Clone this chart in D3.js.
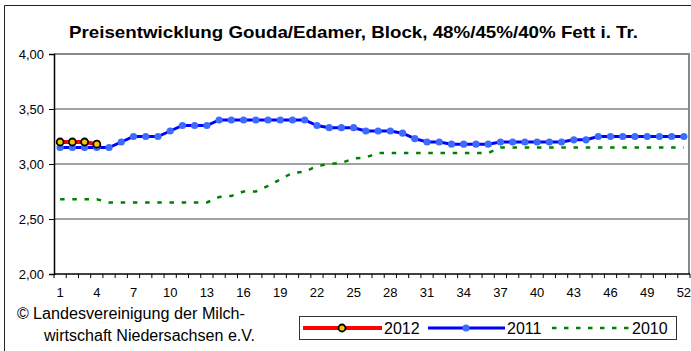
<!DOCTYPE html>
<html>
<head>
<meta charset="utf-8">
<script src="https://cdn.jsdelivr.net/npm/d3@7"></script>
<style>
  html, body { margin: 0; padding: 0; background: #fff; }
  svg { display: block; font-family: "Liberation Sans", Arial, sans-serif; }
</style>
</head>
<body>
<svg id="chart" width="691" height="351"></svg>
<script>
// Kalenderwochen
const weeks = d3.range(1, 53);
const xTickWeeks = [1, 4, 7, 10, 13, 16, 19, 22, 25, 28, 31, 34, 37, 40, 43, 46, 49, 52];
const yTicks = [2.00, 2.50, 3.00, 3.50, 4.00];

// Preise in EUR/kg je Woche
const price2012 = [3.20, 3.20, 3.20, 3.18];
const price2011 = [3.15, 3.15, 3.15, 3.15, 3.15, 3.20, 3.25, 3.25, 3.25, 3.30,
                   3.35, 3.35, 3.35, 3.40, 3.40, 3.40, 3.40, 3.40, 3.40, 3.40,
                   3.40, 3.35, 3.33, 3.33, 3.33, 3.30, 3.30, 3.30, 3.28, 3.23,
                   3.20, 3.20, 3.18, 3.18, 3.18, 3.18, 3.20, 3.20, 3.20, 3.20,
                   3.20, 3.20, 3.22, 3.22, 3.25, 3.25, 3.25, 3.25, 3.25, 3.25,
                   3.25, 3.25];
const price2010 = [2.68, 2.68, 2.68, 2.68, 2.65, 2.65, 2.65, 2.65, 2.65, 2.65,
                   2.65, 2.65, 2.65, 2.70, 2.71, 2.75, 2.75, 2.80, 2.86, 2.92,
                   2.93, 2.98, 3.00, 3.01, 3.05, 3.06, 3.10, 3.10, 3.10, 3.10,
                   3.10, 3.10, 3.10, 3.10, 3.10, 3.10, 3.15, 3.15, 3.15, 3.15,
                   3.15, 3.15, 3.15, 3.15, 3.15, 3.15, 3.15, 3.15, 3.15, 3.15,
                   3.15, 3.15];

const titleText = "Preisentwicklung Gouda/Edamer, Block, 48%/45%/40% Fett i. Tr.";
const sourceLines = ["Landesvereinigung der Milch-", "wirtschaft Niedersachsen e.V."];
const legendLabels = ["2012", "2011", "2010"];

const svg = d3.select("#chart");
const plot = { left: 54, right: 690, top: 54, bottom: 274 };

const x = d3.scaleBand().domain(weeks).range([plot.left, plot.right]);
const y = d3.scaleLinear().domain([2, 4]).range([plot.bottom, plot.top]);
const cx = w => x(w) + x.bandwidth() / 2;
const fmt = v => d3.format(".2f")(v).replace(".", ",");

// Rahmen
svg.append("path")
  .attr("d", "M4.5,360 V5.5 H700")
  .attr("fill", "none").attr("stroke", "#222").attr("stroke-width", 1);

// Titel
svg.append("text")
  .attr("x", 69).attr("y", 38)
  .attr("font-size", 17).attr("font-weight", "bold")
  .attr("textLength", 569).attr("lengthAdjust", "spacingAndGlyphs")
  .attr("fill", "#000")
  .text(titleText);

// Gitterlinien
svg.append("g").selectAll("line")
  .data([2.5, 3.0, 3.5])
  .join("line")
  .attr("x1", plot.left).attr("x2", plot.right)
  .attr("y1", d => y(d)).attr("y2", d => y(d))
  .attr("stroke", "#444").attr("stroke-width", 1);

// obere und rechte Begrenzung
svg.append("path")
  .attr("d", `M${plot.left},${y(4)} H${plot.right - 1} V${plot.bottom}`)
  .attr("fill", "none").attr("stroke", "#888").attr("stroke-width", 2);

// y-Achse
const yAxis = d3.axisLeft(y).tickValues(yTicks).tickSize(5).tickPadding(5).tickFormat(fmt);
const gy = svg.append("g").attr("transform", `translate(${plot.left},0)`).call(yAxis);
gy.select(".domain").attr("stroke", "#000").attr("stroke-width", 1.5);
gy.selectAll(".tick line").attr("stroke", "#000");
gy.selectAll(".tick text").attr("font-size", 13).attr("fill", "#000")
  .attr("font-family", "Liberation Sans, Arial, sans-serif");

// x-Achse: Teilstriche an den Kategoriegrenzen, Beschriftung jede dritte Woche
const gx = svg.append("g").attr("transform", `translate(0,${plot.bottom})`);
gx.append("line")
  .attr("x1", plot.left).attr("x2", plot.right)
  .attr("stroke", "#000").attr("stroke-width", 1.5);
const edges = weeks.map(w => x(w)).concat([plot.right]);
gx.selectAll("line.t").data(edges).join("line").attr("class", "t")
  .attr("x1", d => d).attr("x2", d => d)
  .attr("y1", 0).attr("y2", 4)
  .attr("stroke", "#000").attr("stroke-width", 1);
gx.selectAll("text").data(xTickWeeks).join("text")
  .attr("x", d => cx(d)).attr("y", 23)
  .attr("text-anchor", "middle")
  .attr("font-size", 13).attr("fill", "#000")
  .text(d => d);

// Linien
const line = d3.line().x((d, i) => cx(weeks[i])).y(d => y(d));

svg.append("path").datum(price2010)
  .attr("d", line)
  .attr("fill", "none").attr("stroke", "#008000")
  .attr("stroke-width", 2.5).attr("stroke-dasharray", "4.5,7.7");

svg.append("path").datum(price2011)
  .attr("d", line)
  .attr("fill", "none").attr("stroke", "#0000ff").attr("stroke-width", 3);
svg.append("g").selectAll("circle").data(price2011).join("circle")
  .attr("cx", (d, i) => cx(weeks[i])).attr("cy", d => y(d))
  .attr("r", 3.6).attr("fill", "#3d6bff");

svg.append("path").datum(price2012)
  .attr("d", line)
  .attr("fill", "none").attr("stroke", "#ff0000").attr("stroke-width", 4);
svg.append("g").selectAll("circle").data(price2012).join("circle")
  .attr("cx", (d, i) => cx(weeks[i])).attr("cy", d => y(d))
  .attr("r", 3.5).attr("fill", "#f5c400")
  .attr("stroke", "#000").attr("stroke-width", 1.8);

// Quellenangabe
svg.append("text").attr("x", 17).attr("y", 319)
  .attr("font-size", 16).attr("fill", "#000").text("©");
svg.append("text").attr("x", 33).attr("y", 319)
  .attr("font-size", 16).attr("fill", "#000")
  .attr("textLength", 212).attr("lengthAdjust", "spacingAndGlyphs")
  .text(sourceLines[0]);
svg.append("text").attr("x", 44).attr("y", 341)
  .attr("font-size", 16).attr("fill", "#000")
  .attr("textLength", 211).attr("lengthAdjust", "spacingAndGlyphs")
  .text(sourceLines[1]);

// Legende
const lg = svg.append("g");
lg.append("rect")
  .attr("x", 299.5).attr("y", 316.5).attr("width", 377).attr("height", 23)
  .attr("fill", "#fff").attr("stroke", "#333").attr("stroke-width", 1);
const ly = 328;
lg.append("line").attr("x1", 303).attr("x2", 382).attr("y1", ly).attr("y2", ly)
  .attr("stroke", "#ff0000").attr("stroke-width", 4);
lg.append("circle").attr("cx", 342).attr("cy", ly).attr("r", 3.5)
  .attr("fill", "#f5c400").attr("stroke", "#000").attr("stroke-width", 1.8);
lg.append("line").attr("x1", 428).attr("x2", 505).attr("y1", ly).attr("y2", ly)
  .attr("stroke", "#0000ff").attr("stroke-width", 3);
lg.append("circle").attr("cx", 466).attr("cy", ly).attr("r", 3.6).attr("fill", "#3d6bff");
lg.append("line").attr("x1", 552).attr("x2", 630).attr("y1", ly).attr("y2", ly)
  .attr("stroke", "#008000").attr("stroke-width", 2.5).attr("stroke-dasharray", "4.5,7.5");
const lx = [384, 507, 632];
lg.selectAll("text.l").data(legendLabels).join("text").attr("class", "l")
  .attr("x", (d, i) => lx[i]).attr("y", ly + 5.5)
  .attr("font-size", 16).attr("fill", "#000").text(d => d);
</script>
</body>
</html>
